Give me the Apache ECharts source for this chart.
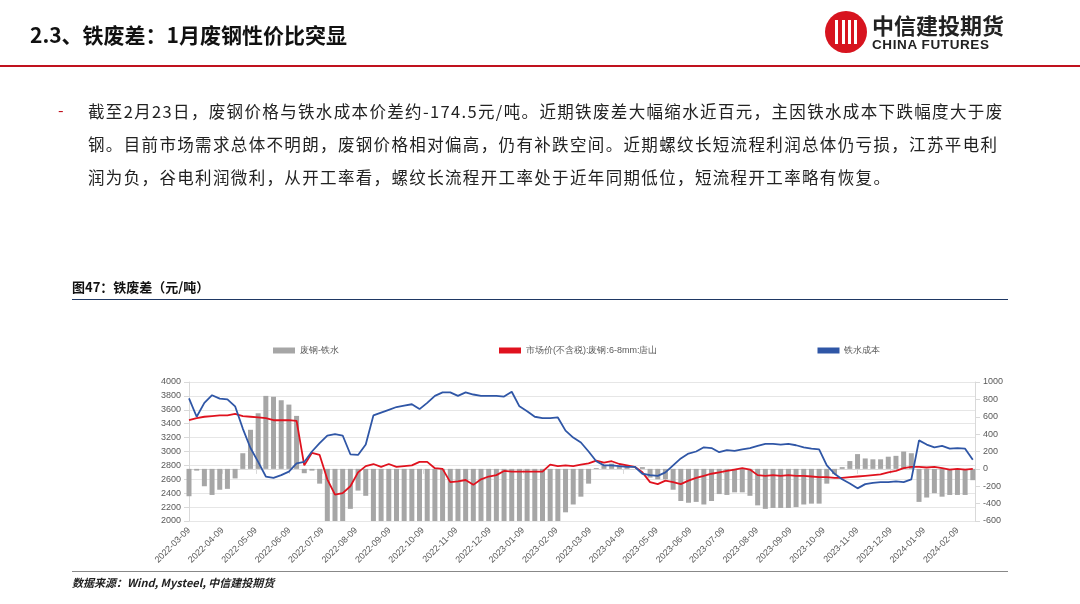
<!DOCTYPE html>
<html>
<head>
<meta charset="utf-8">
<script src="https://cdn.jsdelivr.net/npm/echarts@6/dist/echarts.min.js"></script>
<style>
  body { margin: 0; width: 1080px; height: 604px; background: #fff; position: relative; overflow: hidden;
    font-family: "Noto Sans CJK SC", "Noto Sans", sans-serif; }
  #chart { position: absolute; left: 0; top: 0; width: 1080px; height: 604px; }
  .abs { position: absolute; line-height: 1; }
  .title { left: 30px; top: 24px; font-size: 21px; font-weight: bold; color: #111; }
  .topline { left: 0; top: 65px; width: 1080px; height: 2px; background: #c0121e; }
  .bullet { left: 58px; top: 101px; color: #c0121e; font-size: 16px; }
  .para { left: 88px; top: 95px; white-space: nowrap; font-size: 16.5px; line-height: 33px; color: #222; letter-spacing: 1.35px; }
  .figt { left: 72px; top: 280px; font-size: 13px; font-weight: bold; color: #111; }
  .figline { left: 72px; top: 299px; width: 936px; height: 1px; background: #1f3864; }
  .botline { left: 72px; top: 571px; width: 936px; height: 1px; background: #888; }
  .src { left: 72px; top: 577px; font-size: 11px; font-style: italic; font-weight: bold; color: #222; }
  .logo { left: 825px; top: 11px; width: 42px; height: 42px; border-radius: 50%; background: #d7141f; }
  .logo i { position: absolute; top: 9px; width: 3px; height: 24px; background: #fff; }
  .lg1 { left: 872px; top: 13px; font-size: 22px; font-weight: bold; color: #222; }
  .lg2 { left: 872px; top: 38px; font-size: 13.5px; font-weight: bold; color: #222; font-family: "Liberation Sans", sans-serif; letter-spacing: 0.6px; }
</style>
</head>
<body>
<div id="chart"></div>
<div class="abs title">2.3、铁废差：1月废钢性价比突显</div>
<div class="abs topline"></div>
<div class="abs logo"><i style="left:10px"></i><i style="left:17px"></i><i style="left:23px"></i><i style="left:29px"></i></div>
<div class="abs lg1">中信建投期货</div>
<div class="abs lg2">CHINA FUTURES</div>
<div class="abs bullet">-</div>
<div class="abs para">截至2月23日，废钢价格与铁水成本价差约-174.5元/吨。近期铁废差大幅缩水近百元，主因铁水成本下跌幅度大于废<br>钢。目前市场需求总体不明朗，废钢价格相对偏高，仍有补跌空间。近期螺纹长短流程利润总体仍亏损，江苏平电利<br>润为负，谷电利润微利，从开工率看，螺纹长流程开工率处于近年同期低位，短流程开工率略有恢复。</div>
<div class="abs figt">图47：铁废差（元/吨）</div>
<div class="abs figline"></div>
<div class="abs botline"></div>
<div class="abs src">数据来源：Wind, Mysteel, 中信建投期货</div>
<script>
// weekly samples from 2022-03-09
const startDate = new Date(2022, 2, 9)
const scrapPrice = [
  3450, 3480, 3500, 3510, 3520, 3520, 3540, 3510, 3500, 3490, 3480, 3450, 3450, 3450, 3440, 2800,
  2980, 2950, 2600, 2380, 2400, 2500, 2700, 2790, 2820, 2780, 2820, 2780, 2790, 2800,
  2850, 2850, 2760, 2750, 2560, 2570, 2590, 2520, 2600, 2640, 2660, 2720, 2710, 2710, 2710, 2710,
  2710, 2810, 2790, 2800, 2790, 2810, 2830, 2870,
  2840, 2860, 2820, 2800, 2780, 2700, 2560, 2530, 2580, 2560, 2530, 2580, 2620, 2650, 2680, 2700,
  2720, 2740, 2760, 2740, 2660, 2650, 2660, 2650, 2660, 2650, 2650, 2640, 2630, 2630, 2620, 2620,
  2630, 2640, 2650, 2660, 2670, 2700, 2720, 2760, 2780, 2780, 2770, 2780, 2760, 2740, 2750, 2740, 2750
]
const hotMetalCost = [
  3765, 3500, 3700, 3810, 3760, 3750, 3650, 3330, 3050, 2850, 2640, 2620, 2660, 2710, 2830, 2850,
  3000, 3120, 3230, 3250, 3230, 2960, 2950, 3100, 3520, 3560, 3600, 3640, 3660, 3680,
  3610, 3700, 3800, 3850, 3850, 3800, 3850, 3820, 3800, 3800, 3800, 3790, 3860, 3650, 3580, 3500,
  3480, 3480, 3490, 3300, 3200, 3130, 3000, 2860,
  2800, 2800, 2790, 2780, 2780, 2680, 2660, 2650, 2700, 2800, 2900, 2970, 3000, 3060, 3050, 2990,
  3020, 3010, 3030, 3050, 3080, 3110, 3110, 3100, 3110, 3090, 3060, 3040, 3030, 2800, 2680, 2600,
  2540, 2470, 2530, 2550, 2560, 2560, 2570, 2560, 2600, 3160, 3100, 3060, 3080, 3040, 3050, 3040, 2880
]
const spread = [
  -315, -20, -200, -300, -240, -230, -110, 180, 450, 640, 840, 830, 790, 740, 610, -50,
  -20, -170, -630, -650, -650, -460, -250, -310, -650, -650, -650, -650, -650, -650,
  -650, -650, -650, -650, -650, -650, -650, -650, -650, -650, -650, -650, -650, -650, -650, -650,
  -650, -650, -650, -500, -410, -320, -170, 10,
  40, 60, 30, 20, 0, 20, -100, -120, -120, -240, -370, -390, -380, -410, -370, -290,
  -300, -270, -270, -310, -420, -460, -450, -450, -450, -440, -410, -400, -400, -170, -60, 20,
  90, 170, 120, 110, 110, 140, 150, 200, 180, -380, -330, -280, -320, -300, -300, -300, -130
]
const monthStep = 30.4375

const pts = arr => arr.map((v, i) => [i * 7, v])
const fmtDate = v => {
  const m = Math.round(v / monthStep)
  const d = new Date(startDate.getFullYear(), startDate.getMonth() + m, 9)
  return d.getFullYear() + '-' + String(d.getMonth() + 1).padStart(2, '0') + '-09'
}

const chart = echarts.init(document.getElementById('chart'))
const axisText = { color: '#595959', fontSize: 9, fontFamily: 'Liberation Sans', formatter: v => String(v) }
chart.setOption({
  animation: false,
  legend: {
    top: 341, left: 268, itemGap: 160, itemWidth: 22, itemHeight: 6,
    textStyle: { color: '#595959', fontSize: 9 },
    data: [
      { name: '废钢-铁水', icon: 'rect' },
      { name: '市场价(不含税):废钢:6-8mm:唐山', icon: 'rect', itemStyle: { color: '#e0121e' } },
      { name: '铁水成本', icon: 'rect', itemStyle: { color: '#2f56a6' } }
    ]
  },
  grid: { left: 189, top: 382, width: 786, height: 139 },
  xAxis: {
    type: 'value', min: 0, max: 716, interval: monthStep,
    axisLine: { lineStyle: { color: '#d9d9d9' } },
    axisTick: { show: true, lineStyle: { color: '#d9d9d9' } },
    splitLine: { show: false },
    axisLabel: { ...axisText, rotate: 45, formatter: fmtDate, showMaxLabel: false }
  },
  yAxis: [
    {
      type: 'value', min: 2000, max: 4000, interval: 200,
      axisLine: { show: true, lineStyle: { color: '#d9d9d9' } },
      splitLine: { lineStyle: { color: '#e6e6e6' } },
      axisLabel: axisText
    },
    {
      type: 'value', min: -600, max: 1000, interval: 200,
      axisLine: { show: true, lineStyle: { color: '#d9d9d9' } },
      splitLine: { show: false },
      axisLabel: axisText
    }
  ],
  series: [
    {
      name: '废钢-铁水', type: 'bar', yAxisIndex: 1, barWidth: 5, clip: true,
      itemStyle: { color: '#a6a6a6' }, data: pts(spread)
    },
    {
      name: '市场价(不含税):废钢:6-8mm:唐山', type: 'line', showSymbol: false,
      lineStyle: { color: '#e0121e', width: 1.8 }, itemStyle: { color: '#e0121e' }, data: pts(scrapPrice)
    },
    {
      name: '铁水成本', type: 'line', showSymbol: false,
      lineStyle: { color: '#2f56a6', width: 1.8 }, itemStyle: { color: '#2f56a6' }, data: pts(hotMetalCost)
    }
  ]
})
</script>
</body>
</html>
